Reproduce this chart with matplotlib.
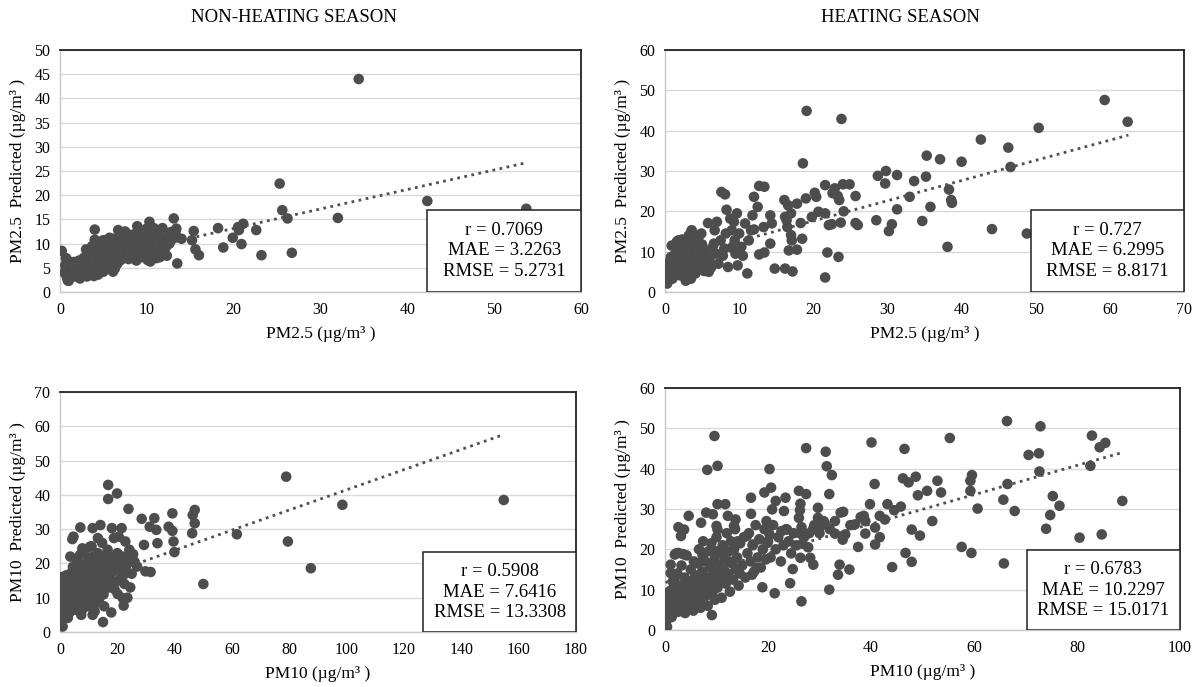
import numpy as np
import matplotlib
matplotlib.use('Agg')
import matplotlib.pyplot as plt
from matplotlib.patches import Rectangle

nh_pm25_pts = [
    (34.4, 44.0), (25.3, 22.4), (42.3, 18.8), (53.7, 17.2), (25.6, 16.9), (26.2, 15.2),
    (32.0, 15.3), (26.7, 8.1), (23.2, 7.6), (22.6, 12.8), (21.1, 14.1), (20.6, 12.8),
    (20.5, 13.4), (20.9, 9.9), (19.9, 11.2), (18.8, 9.2), (18.2, 13.2), (16.0, 7.6),
    (15.6, 8.8), (15.4, 12.6), (15.2, 10.7), (14.0, 11.0), (13.5, 5.9), (13.1, 15.2),
    (13.4, 13.1), (13.3, 12.1), (11.8, 13.2), (11.5, 7.2), (10.3, 14.5), (10.6, 12.1),
    (10.9, 11.4), (10.1, 6.6), (8.9, 13.6), (6.7, 12.8), (4.0, 12.9), (4.0, 10.8),
    (5.0, 10.7), (0.2, 8.5), (0.7, 6.9), (0.9, 2.4),
    (0.5, 4.0), (0.6, 5.5), (0.8, 3.0), (0.9, 6.5), (1.0, 2.3), (1.1, 4.5), (1.2, 5.8),
    (0.7, 7.0), (1.3, 3.5), (1.5, 4.8), (1.6, 6.2), (1.8, 3.2), (2.0, 5.0), (2.1, 4.0),
    (2.2, 6.5), (2.4, 3.6), (2.5, 5.5), (2.7, 7.0), (2.8, 4.3), (3.0, 8.8), (3.0, 6.0),
    (3.1, 3.2), (2.3, 2.8), (1.9, 5.8), (3.3, 5.0), (3.4, 7.5), (3.5, 4.0), (3.6, 6.3),
    (3.8, 8.0), (3.9, 3.3), (4.0, 5.5), (4.1, 7.0), (4.2, 9.0), (4.3, 4.6), (4.5, 6.2),
    (4.6, 8.5), (4.7, 5.0), (4.8, 10.5), (4.9, 7.4), (5.0, 4.2), (3.7, 9.5), (4.4, 3.6),
    (5.2, 6.0), (5.3, 8.0), (5.4, 9.5), (5.5, 5.0), (5.6, 7.0), (5.8, 10.0), (5.9, 6.4),
    (6.0, 8.6), (6.1, 4.2), (6.2, 11.0), (6.4, 7.5), (6.5, 9.2), (6.6, 5.8), (6.8, 10.5),
    (6.9, 8.0), (7.0, 6.6), (6.3, 4.8), (5.7, 11.2), (7.2, 9.0), (7.3, 11.5), (7.4, 7.3),
    (7.6, 10.0), (7.7, 8.2), (7.9, 6.8), (8.0, 11.8), (8.1, 9.3), (8.3, 7.8), (8.4, 10.6),
    (8.6, 12.0), (8.7, 8.6), (8.8, 6.5), (8.9, 11.0), (9.0, 9.6), (7.5, 12.5), (9.2, 12.5),
    (9.3, 8.0), (9.4, 10.4), (9.5, 7.2), (9.6, 11.5), (9.8, 9.0), (9.9, 13.0), (10.0, 10.5),
    (10.1, 8.2), (10.2, 12.0), (10.4, 6.3), (10.5, 11.0), (10.6, 9.4), (10.8, 13.2),
    (10.9, 8.4), (11.0, 10.3), (11.3, 11.8), (11.5, 9.6), (11.7, 8.0), (11.9, 10.8),
    (12.2, 9.3), (12.4, 11.5), (12.6, 10.0), (12.8, 12.4), (13.0, 11.0), (12.3, 7.5),
    (11.1, 7.0), (13.2, 12.0),
]

h_pm25_pts = [
    (59.3, 47.6), (62.4, 42.2), (50.4, 40.7), (42.6, 37.8), (46.3, 35.8), (46.6, 31.0),
    (40.0, 32.3), (37.1, 32.9), (35.3, 33.8), (35.2, 28.6), (33.6, 27.5), (33.0, 23.6),
    (38.3, 25.4), (38.6, 22.8), (38.7, 22.1), (35.8, 21.1), (34.7, 17.6), (38.1, 11.2),
    (44.1, 15.6), (48.8, 14.5), (29.8, 30.0), (28.7, 28.8), (29.7, 26.9), (31.3, 29.0),
    (31.3, 20.5), (30.6, 16.8), (30.2, 15.1), (28.5, 17.8), (25.7, 23.8), (25.7, 17.1),
    (26.0, 16.6), (23.7, 17.2), (24.0, 26.7), (24.9, 26.7), (23.8, 42.9), (19.1, 44.9),
    (18.6, 31.9), (21.6, 26.5), (22.9, 25.7), (23.3, 23.8), (23.5, 22.8), (24.1, 20.0),
    (22.6, 24.5), (21.6, 19.5), (20.7, 19.9), (19.8, 18.6), (20.2, 24.6), (20.4, 23.6),
    (19.0, 23.2), (18.3, 17.1), (18.5, 13.2), (17.8, 21.9), (17.8, 10.5), (17.2, 5.1),
    (16.2, 5.8), (14.8, 5.8), (21.6, 3.6), (21.9, 9.8), (23.4, 8.7), (22.1, 16.6),
    (22.5, 16.8), (16.1, 22.8), (16.6, 21.5), (17.0, 19.5), (16.4, 17.8), (16.5, 16.1),
    (17.0, 14.1), (17.1, 12.8), (16.7, 10.3), (16.2, 18.6), (13.4, 26.1), (12.7, 26.3),
    (12.0, 23.6), (12.5, 21.1), (11.8, 19.0), (14.2, 19.0), (14.4, 17.0), (11.6, 15.3),
    (11.3, 12.8), (11.1, 4.6), (12.7, 9.3), (13.4, 9.8), (14.2, 12.0), (10.8, 17.0),
    (13.3, 16.1), (7.6, 24.8), (8.1, 24.2), (8.3, 20.4), (8.8, 18.2), (9.3, 17.4),
    (9.0, 15.3), (8.2, 14.5), (7.0, 17.4), (5.8, 17.1), (6.7, 15.3), (7.5, 12.8),
    (6.9, 9.5), (8.5, 6.2), (9.8, 6.6), (9.5, 9.5), (10.3, 11.2), (7.2, 7.0), (5.9, 5.0),
    (5.3, 5.2), (5.4, 10.3), (3.6, 15.3), (4.9, 14.5), (3.9, 13.7), (2.8, 12.8),
    (1.8, 12.8), (2.3, 10.3), (3.3, 8.3), (4.1, 7.0), (3.5, 3.3), (2.1, 7.9), (1.3, 6.2),
    (0.5, 7.0), (0.3, 4.6), (0.3, 2.1), (0.8, 8.7), (1.5, 9.5), (2.6, 6.2), (3.1, 5.0),
    (1.0, 3.3), (2.1, 4.1), (4.6, 8.7), (4.4, 11.2), (2.7, 10.8), (4.1, 4.6), (9.7, 19.5),
    (10.0, 14.5), (9.4, 12.8), (8.0, 10.8),
    (0.2, 3.0), (0.3, 5.0), (0.4, 6.5), (0.5, 4.0), (0.6, 7.5), (0.8, 5.5), (1.0, 3.5),
    (1.1, 6.0), (1.3, 4.8), (1.5, 8.0), (1.6, 5.2), (1.8, 10.5), (2.0, 4.5), (2.1, 7.2),
    (2.3, 9.0), (2.5, 5.8), (2.6, 11.5), (2.8, 6.8), (3.0, 8.2), (3.1, 4.2), (3.3, 9.8),
    (3.5, 6.5), (3.7, 12.0), (3.9, 7.5), (4.0, 5.2), (4.2, 10.0), (4.5, 8.8), (4.7, 6.0),
    (5.0, 11.8), (5.2, 7.0), (5.5, 9.2), (6.0, 8.0), (6.3, 10.8), (1.2, 9.0), (0.9, 11.5),
    (1.6, 12.5), (2.3, 13.0), (3.2, 14.0), (3.6, 15.2), (4.5, 13.5), (2.8, 2.8),
    (6.6, 12.0), (7.8, 9.0), (5.0, 6.5), (6.2, 6.0), (9.0, 11.0), (10.5, 9.0), (12.0, 15.5),
]

nh_pm10_pts = [
    (154.8, 38.5), (78.9, 45.3), (98.5, 37.1), (79.5, 26.4), (87.5, 18.6), (61.7, 28.5),
    (50.0, 14.0), (47.0, 35.6), (46.3, 34.1), (47.0, 31.7), (46.1, 28.8), (39.2, 34.6),
    (37.9, 30.7), (39.2, 29.5), (39.6, 26.4), (39.9, 23.3), (34.0, 25.9), (32.9, 33.2),
    (33.6, 29.8), (31.3, 30.7), (28.5, 33.0), (29.3, 25.4), (29.8, 17.7), (31.6, 17.5),
    (23.9, 35.9), (19.9, 40.4), (16.8, 42.9), (16.8, 38.8), (7.1, 30.5), (4.7, 27.8),
    (4.3, 27.1), (3.6, 22.0), (7.8, 24.4), (10.5, 24.9), (11.4, 30.3), (14.1, 31.2),
    (13.2, 27.4), (18.1, 30.3), (21.5, 30.3), (18.8, 27.4), (20.5, 27.8), (22.8, 26.4),
    (24.2, 24.0), (25.5, 22.7), (26.9, 19.1), (22.2, 16.7), (21.9, 9.9), (22.2, 7.7),
    (20.1, 11.1), (17.9, 5.7), (15.0, 2.9), (0.9, 1.6), (0.4, 2.9), (1.1, 5.5), (2.7, 4.1),
    (5.4, 6.5), (7.4, 5.0), (12.1, 6.0), (11.4, 5.0), (15.4, 7.5),
    (0.2, 10.0), (0.3, 14.0), (0.4, 12.0), (0.5, 16.0), (0.6, 8.0), (0.7, 11.0),
    (0.8, 13.5), (1.0, 9.0), (1.1, 15.0), (1.2, 6.5), (1.4, 12.5), (1.5, 10.5),
    (1.7, 14.5), (1.8, 8.0), (2.0, 11.5), (2.1, 16.5), (2.3, 7.0), (2.5, 13.0), (2.6, 9.5),
    (2.8, 15.5), (3.0, 11.0), (3.2, 5.5), (3.3, 13.0), (3.5, 8.5), (3.6, 17.0),
    (3.8, 10.5), (4.0, 14.5), (4.1, 6.5), (4.3, 12.0), (4.5, 19.0), (4.6, 9.0),
    (4.8, 15.5), (5.0, 11.0), (5.2, 7.5), (5.3, 13.5), (5.5, 17.5), (5.7, 10.0),
    (5.9, 21.0), (6.0, 12.5), (6.2, 8.0), (6.4, 15.0), (6.5, 18.5), (6.7, 11.0),
    (6.9, 13.5), (7.0, 22.5), (7.2, 9.5), (7.4, 16.0), (7.5, 12.0), (7.7, 19.5),
    (7.9, 14.0), (8.0, 6.8), (8.2, 10.5), (8.4, 17.0), (8.5, 23.5), (8.7, 12.5),
    (8.9, 15.0), (9.0, 20.0), (9.2, 9.0), (9.4, 13.0), (9.5, 18.0), (9.7, 11.0),
    (9.9, 16.0), (10.0, 21.5), (10.2, 7.5), (10.4, 14.0), (10.5, 19.0), (10.7, 12.0),
    (10.9, 17.0), (11.0, 25.0), (11.2, 10.0), (11.4, 15.0), (11.5, 22.0), (11.7, 13.0),
    (11.9, 18.5), (12.0, 8.0), (12.3, 16.0), (12.5, 20.0), (12.7, 11.5), (13.0, 14.0),
    (13.2, 23.0), (13.4, 17.5), (13.6, 9.5), (13.8, 19.0), (14.0, 12.5), (14.2, 21.0),
    (14.5, 15.5), (14.7, 26.0), (15.0, 18.0), (15.2, 11.0), (15.5, 22.0), (15.8, 14.0),
    (16.0, 20.0), (16.3, 16.5), (16.6, 24.0), (17.0, 13.0), (17.3, 19.0), (17.6, 22.0),
    (18.0, 15.0), (18.3, 17.5), (18.6, 21.0), (19.0, 12.5), (19.5, 18.0), (20.0, 23.0),
    (20.5, 15.0), (21.0, 20.0), (21.5, 17.0), (22.0, 22.0), (22.5, 14.0), (23.0, 19.0),
    (24.0, 21.0), (24.5, 13.0), (25.0, 17.0), (26.0, 20.5), (23.5, 10.0),
]

h_pm10_pts = [
    (66.4, 51.8), (72.9, 50.5), (55.3, 47.6), (40.1, 46.5), (46.5, 44.9), (27.4, 45.1),
    (9.6, 48.1), (31.2, 44.2), (31.4, 40.6), (32.4, 38.4), (20.3, 39.9), (8.2, 39.7),
    (10.2, 40.7), (70.6, 43.4), (72.6, 43.8), (72.7, 39.3), (82.9, 48.2), (84.4, 45.3),
    (85.5, 46.4), (82.6, 40.7), (88.8, 32.0), (84.8, 23.7), (80.5, 22.9), (75.3, 33.2),
    (76.6, 30.8), (74.8, 28.5), (74.0, 25.1), (67.9, 29.5), (66.5, 36.2), (65.7, 32.3),
    (65.8, 16.5), (60.7, 30.1), (59.6, 38.4), (59.3, 37.0), (59.3, 34.5), (59.5, 19.1),
    (57.6, 20.6), (53.6, 34.1), (52.9, 37.0), (50.9, 34.5), (49.1, 33.4), (48.7, 38.0),
    (47.3, 36.6), (46.2, 37.6), (47.9, 24.9), (49.5, 23.4), (51.9, 27.0), (46.7, 19.1),
    (47.9, 16.9), (44.1, 15.6), (45.8, 30.6), (44.5, 29.7), (43.2, 31.2), (42.7, 27.4),
    (41.7, 28.3), (40.7, 36.2), (39.8, 31.2), (40.8, 25.4), (40.8, 21.2), (41.7, 23.0),
    (38.9, 27.0), (38.6, 28.3), (38.9, 23.9), (37.5, 20.6), (36.9, 26.2), (35.8, 15.0),
    (33.9, 16.2), (33.6, 13.7), (35.0, 23.7), (34.5, 22.4), (34.1, 29.1), (34.6, 29.3),
    (31.9, 33.7), (33.0, 23.9), (31.9, 10.0), (30.8, 27.0), (30.3, 25.8), (29.7, 27.8),
    (29.7, 30.3), (28.8, 25.2), (28.8, 16.2), (28.2, 17.9), (27.8, 20.5), (26.7, 21.4),
    (26.5, 7.1), (27.4, 33.7), (26.3, 31.3), (26.0, 27.8), (26.2, 29.7), (26.0, 34.5),
    (26.3, 23.9), (26.3, 17.9), (24.8, 15.1), (24.3, 11.6), (23.4, 32.8), (23.1, 29.5),
    (22.6, 24.5), (23.7, 24.9), (21.5, 32.0), (20.8, 29.9), (20.6, 35.3), (21.3, 9.1),
    (20.3, 23.7), (19.9, 21.6), (19.3, 34.1), (19.7, 27.0), (18.9, 10.6), (17.8, 15.4),
    (16.9, 13.7), (16.7, 32.8), (16.7, 28.8), (17.1, 21.2), (15.9, 23.3), (14.1, 22.0),
    (13.7, 27.4), (12.2, 28.3), (13.4, 25.8), (11.7, 31.2), (10.2, 31.2), (10.0, 25.8),
    (10.2, 24.9), (9.1, 3.7), (8.0, 29.1), (9.3, 28.7), (7.0, 26.6), (4.6, 28.3),
    (2.6, 25.5), (3.7, 24.9), (3.1, 23.3), (1.9, 18.7), (2.6, 19.1), (1.1, 16.2),
    (1.1, 14.1), (0.1, 6.2), (0.2, 2.1), (0.4, 0.8), (0.15, 3.7), (0.2, 5.0), (0.6, 7.9),
    (1.5, 12.0), (0.9, 9.6),
    (0.6, 4.5), (0.8, 6.5), (1.0, 8.5), (1.2, 5.0), (1.4, 10.0), (1.6, 7.0), (1.8, 12.5),
    (2.0, 5.8), (2.2, 9.0), (2.4, 14.0), (2.6, 6.5), (2.8, 11.0), (3.0, 8.0), (3.2, 16.0),
    (3.4, 5.0), (3.6, 10.0), (3.8, 13.0), (4.0, 7.0), (4.2, 18.5), (4.4, 9.0), (4.6, 12.0),
    (4.8, 5.5), (5.0, 15.0), (5.2, 8.0), (5.4, 11.0), (5.6, 17.0), (5.8, 6.0), (6.0, 13.5),
    (3.5, 18.8), (2.2, 19.0), (6.2, 9.5), (6.4, 16.5), (6.6, 20.0), (6.8, 7.5), (7.0, 12.0),
    (7.2, 14.5), (7.4, 22.0), (7.6, 10.0), (7.8, 17.0), (8.0, 8.5), (8.2, 13.0), (8.4, 19.5),
    (8.6, 11.0), (8.8, 15.5), (9.0, 21.5), (9.2, 9.0), (9.4, 14.0), (9.6, 17.5), (9.8, 12.0),
    (10.0, 23.0), (10.2, 10.5), (10.4, 16.0), (10.6, 19.0), (10.8, 13.0), (11.0, 8.0),
    (11.2, 21.0), (11.4, 15.0), (11.6, 17.5), (11.8, 11.5), (12.0, 24.0), (12.2, 14.0),
    (12.4, 19.5), (12.6, 9.5), (12.8, 22.0), (13.0, 16.5), (13.2, 12.5), (13.4, 20.0),
    (13.6, 25.0), (13.8, 15.0), (14.0, 18.0), (14.3, 11.0), (14.6, 21.5), (15.0, 16.0),
    (15.3, 23.0), (15.6, 13.0), (16.0, 19.0), (16.3, 24.0), (16.6, 17.0), (17.0, 21.0),
    (17.3, 14.5), (17.6, 26.0), (18.0, 18.0), (18.3, 22.5), (18.6, 15.5), (19.0, 20.0),
    (19.3, 25.0), (19.6, 17.5), (20.0, 22.0), (20.5, 18.0), (21.0, 26.0), (21.5, 20.0),
    (22.0, 23.0), (22.5, 17.0), (23.0, 21.0), (23.5, 25.0), (24.0, 22.0), (24.5, 19.0),
    (25.0, 24.0), (25.5, 21.0), (26.5, 25.5), (27.0, 23.0), (28.0, 24.0), (29.0, 26.0),
    (30.0, 24.0), (31.0, 26.5), (32.0, 25.0), (33.0, 27.0), (36.0, 26.0), (38.0, 28.0),
    (1.3, 3.2), (2.5, 4.5), (3.9, 4.2), (5.5, 4.8), (6.9, 5.5), (8.3, 6.0), (9.7, 7.5),
    (2.9, 6.0), (4.5, 6.8), (6.1, 7.8), (7.5, 9.0), (9.0, 10.0), (10.5, 11.8), (12.0, 13.0),
    (3.3, 9.5), (5.0, 10.2), (6.5, 11.2), (8.0, 12.5), (9.5, 13.5), (11.0, 14.5),
    (4.0, 11.5), (5.8, 13.0), (7.3, 18.5), (9.9, 19.5), (12.5, 17.0), (14.5, 14.0),
]

# linear trend line end points (x0, x1), (y0, y1)
nh_pm25_trend = ([0.3, 53.7], [5.2, 26.7])
h_pm25_trend = ([0.2, 62.5], [7.7, 38.9])
nh_pm10_trend = ([0.5, 154.8], [12.2, 57.6])
h_pm10_trend = ([0.1, 88.8], [11.8, 44.0])

stats = [
    ['r = 0.7069', 'MAE = 3.2263', 'RMSE = 5.2731'],
    ['r = 0.727', 'MAE = 6.2995', 'RMSE = 8.8171'],
    ['r = 0.5908', 'MAE = 7.6416', 'RMSE = 13.3308'],
    ['r = 0.6783', 'MAE = 10.2297', 'RMSE = 15.0171'],
]

xlabels = ['PM2.5 (µg/m³ )', 'PM2.5 (µg/m³ )', 'PM10 (µg/m³ )', 'PM10 (µg/m³ )']
ylabels = ['PM2.5  Predicted (µg/m³ )', 'PM2.5  Predicted (µg/m³ )',
           'PM10  Predicted (µg/m³ )', 'PM10  Predicted (µg/m³ )']
xlims = [(0, 60, 10), (0, 70, 10), (0, 180, 20), (0, 100, 20)]
ylims = [(0, 50, 5), (0, 60, 10), (0, 70, 10), (0, 60, 10)]

plt.rcParams['font.family'] = ['Liberation Serif', 'DejaVu Serif']

W, H = 1198, 687
fig = plt.figure(figsize=(W / 100, H / 100), dpi=100)

# axes rectangles in pixels: left, right, top, bottom
rects = [(60, 581, 50, 292), (665, 1184, 50, 292), (60, 576, 392, 632), (665, 1180, 388, 630)]
boxes = [(0.705, 0.34), (0.705, 0.34), (0.704, 0.333), (0.702, 0.33)]
all_pts = [nh_pm25_pts, h_pm25_pts, nh_pm10_pts, h_pm10_pts]
trends = [nh_pm25_trend, h_pm25_trend, nh_pm10_trend, h_pm10_trend]

dot = '#4d4d4d'

for i in range(4):
    l, r, t, b = rects[i]
    ax = fig.add_axes([l / W, (H - b) / H, (r - l) / W, (b - t) / H])
    pts = np.array(all_pts[i])
    ax.scatter(pts[:, 0], pts[:, 1], s=58, color=dot, edgecolors='none', zorder=3)
    tx, ty = trends[i]
    ax.plot(tx, ty, linestyle=(0, (1, 1.6)), color='#505050', lw=2.0, zorder=4)

    x0, x1, xs = xlims[i]
    y0, y1, ys = ylims[i]
    ax.set_xlim(x0, x1)
    ax.set_ylim(y0, y1)
    ax.set_xticks(np.arange(x0, x1 + 0.1, xs))
    ax.set_yticks(np.arange(y0, y1 + 0.1, ys))
    ax.grid(axis='y', color='#d9d9d9', lw=1.0, zorder=0)
    ax.set_axisbelow(True)
    ax.tick_params(length=0, labelsize=11.5, pad=7)
    for s in ['top', 'right']:
        ax.spines[s].set_color('#222222')
        ax.spines[s].set_linewidth(1.3)
    for s in ['left', 'bottom']:
        ax.spines[s].set_color('#c8c8c8')
        ax.spines[s].set_linewidth(1.0)
    ax.set_xlabel(xlabels[i], fontsize=12.5, labelpad=6)
    ax.set_ylabel(ylabels[i], fontsize=12.5, labelpad=6)

    bx, bh = boxes[i]
    ax.add_patch(Rectangle((bx, 0), 1 - bx, bh, transform=ax.transAxes,
                           facecolor='white', edgecolor='#222222', lw=1.1, zorder=5))
    ax.text((bx + 1) / 2, bh / 2, '\n'.join(stats[i]), transform=ax.transAxes,
            ha='center', va='center', fontsize=13.5, linespacing=1.25, zorder=6)

fig.text(294 / W, 1 - 18 / H, 'NON-HEATING SEASON', ha='center', va='center', fontsize=13.5)
fig.text(900 / W, 1 - 18 / H, 'HEATING SEASON', ha='center', va='center', fontsize=13.5)

fig.savefig('out.png', dpi=100)
